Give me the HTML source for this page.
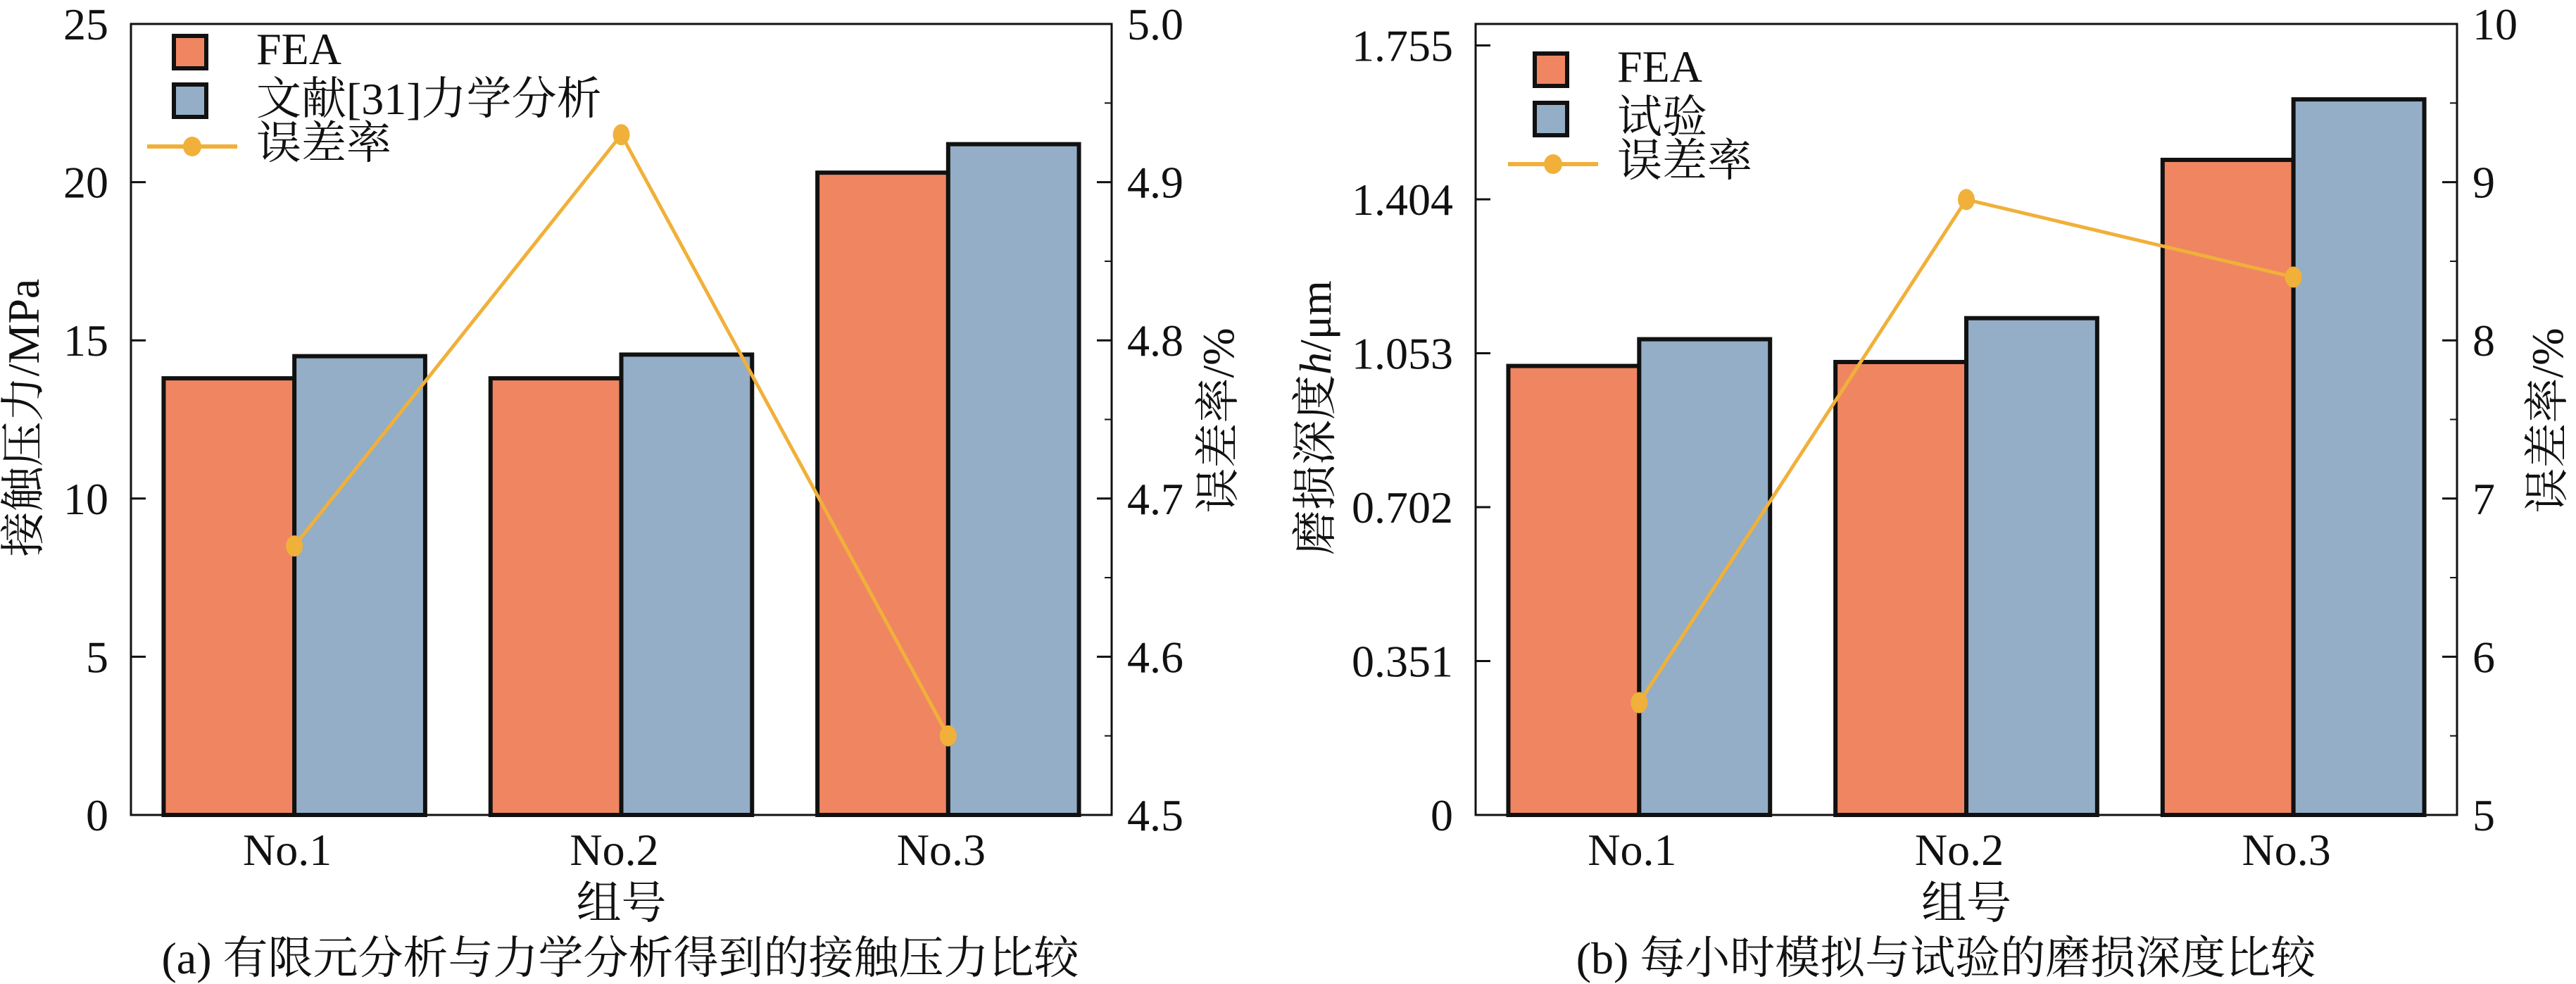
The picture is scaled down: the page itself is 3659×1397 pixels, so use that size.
<!DOCTYPE html>
<html><head><meta charset="utf-8">
<style>
html,body{margin:0;padding:0;background:#fff;}
svg{display:block;}
text{font-family:"Liberation Serif","Noto Serif CJK SC","Noto Sans CJK SC",serif;fill:#111;}
</style></head>
<body>
<svg id="fig" width="3659" height="1397" viewBox="0 0 3659 1397" xmlns="http://www.w3.org/2000/svg">
<rect width="3659" height="1397" fill="#fff"/>
</svg>
<script>
const categories = ["No.1","No.2","No.3"];
// chart (a)
const aFEA = [13.8, 13.8, 20.3];
const aRef = [14.5, 14.55, 21.2];
const aErr = [4.67, 4.93, 4.55];
const aLeftTicks = [0,5,10,15,20,25];
const aRightTicks = [4.5,4.6,4.7,4.8,4.9,5.0];
const aRightLabels = ["4.5","4.6","4.7","4.8","4.9","5.0"];
// chart (b)
const bFEA = [1.024, 1.033, 1.494];
const bTest = [1.085, 1.133, 1.632];
const bErr = [5.71, 8.89, 8.40];
const bLeftTicks = [0,0.351,0.702,1.053,1.404,1.755];
const bLeftLabels = ["0","0.351","0.702","1.053","1.404","1.755"];
const bRightTicks = [5,6,7,8,9,10];

const NS="http://www.w3.org/2000/svg";
const svg=document.getElementById('fig');
function mk(tag,attrs,parent){const e=document.createElementNS(NS,tag);for(const k in attrs)e.setAttribute(k,attrs[k]);(parent||svg).appendChild(e);return e;}
function txt(s,attrs,parent){const e=mk('text',attrs,parent);e.textContent=s;return e;}

const C_FEA="#F08562",C_BLUE="#93AEC6",C_LINE="#F0B03A";

function chart(o){
  const g=mk('g',{});
  
  
  const L=o.left,R=o.right,T=34,B=1157,W=R-L;
  const step=W/categories.length;
  const xc=i=>L+step*(i+0.5);
  const yL=v=>B-(v-o.lmin)/(o.lmax-o.lmin)*(B-T);
  const yR=v=>B-(v-o.rmin)/(o.rmax-o.rmin)*(B-T);
  const bw=step*0.4;
  for(let i=0;i<categories.length;i++){
    const r1=mk('rect',{x:xc(i)-bw,y:yL(o.s1[i]),width:bw,height:B-yL(o.s1[i]),fill:C_FEA,stroke:'#111','stroke-width':6},g);
    
    
    const r2=mk('rect',{x:xc(i),y:yL(o.s2[i]),width:bw,height:B-yL(o.s2[i]),fill:C_BLUE,stroke:'#111','stroke-width':6},g);
    
    
  }
  const fr=mk('rect',{x:L,y:T,width:W,height:B-T,fill:'none',stroke:'#111','stroke-width':3},g);
  
  
  o.lt.forEach((v,i)=>{
    mk('line',{x1:L,x2:L+21,y1:yL(v),y2:yL(v),stroke:'#111','stroke-width':3},g);
    const t=txt(o.ll[i],{x:L-32,y:yL(v)+22,'text-anchor':'end','font-size':64},g);
    
    
  });
  o.rt.forEach((v,i)=>{
    mk('line',{x1:R,x2:R-21,y1:yR(v),y2:yR(v),stroke:'#111','stroke-width':3},g);
    if(i<o.rt.length-1){const m=(v+o.rt[i+1])/2;mk('line',{x1:R,x2:R-10,y1:yR(m),y2:yR(m),stroke:'#111','stroke-width':2},g);}
    const t=txt(o.rl[i],{x:R+22,y:yR(v)+22,'text-anchor':'start','font-size':64},g);
    
    
  });
  categories.forEach((c,i)=>{
    const t=txt(c,{x:xc(i)-10,y:1228,'text-anchor':'middle','font-size':64},g);
    
    
  });
  const pts=o.err.map((v,i)=>xc(i)+','+yR(v)).join(' ');
  const pl=mk('polyline',{points:pts,fill:'none',stroke:C_LINE,'stroke-width':5},g);
  
  
  o.err.forEach((v,i)=>{
    const c=mk('ellipse',{cx:xc(i),cy:yR(v),rx:12,ry:15,fill:C_LINE},g);
    
    
  });
  const xt=txt('组号',{x:(L+R)/2,y:1304,'text-anchor':'middle','font-size':64},g);
  
  
  const yt=mk('text',{x:0,y:0,'text-anchor':'middle','font-size':64,transform:`translate(${o.ytx},593) rotate(-90)`},g);
  
  
  o.ytitle.forEach(p=>{const s=mk('tspan',p[1]?{'font-style':'italic'}:{},yt);s.textContent=p[0];});
  const rt=txt('误差率/%',{x:0,y:0,'text-anchor':'middle','font-size':64,transform:`translate(${o.rtx},597) rotate(-90)`},g);
  
  
  const cap=txt(o.caption,{x:o.capx,y:1382,'text-anchor':'middle','font-size':64},g);
  
  
  const lg=mk('g',{},g);
  
  
  const sx=o.lgx;
  const s1=mk('rect',{x:sx,y:o.lgy[0],width:46,height:46,fill:C_FEA,stroke:'#111','stroke-width':6},lg);
  
  
  const t1=txt('FEA',{x:sx+117,y:o.lgy[0]+40,'font-size':64},lg);
  
  
  const s2=mk('rect',{x:sx,y:o.lgy[1],width:46,height:46,fill:C_BLUE,stroke:'#111','stroke-width':6},lg);
  
  
  const t2=txt(o.s2label,{x:sx+117,y:o.lgy[1]+42,'font-size':64},lg);
  
  
  mk('line',{x1:sx-38,x2:sx+90,y1:o.lgy[2],y2:o.lgy[2],stroke:C_LINE,'stroke-width':6},lg);
  mk('ellipse',{cx:sx+26,cy:o.lgy[2],rx:13,ry:14,fill:C_LINE},lg);
  const t3=txt('误差率',{x:sx+117,y:o.lgy[2]+17,'font-size':64},lg);
  
  
}

chart({name:'chart-a-contact-pressure',left:186,right:1579,lmin:0,lmax:25,rmin:4.5,rmax:5.0,
  s1:aFEA,s2:aRef,err:aErr,s2name:'ref31',s2label:'文献[31]力学分析',
  lt:aLeftTicks,ll:aLeftTicks.map(String),rt:aRightTicks,rl:aRightLabels,
  ytitle:[['接触压力/MPa',false]],ytx:55,rtx:1752,caption:'(a) 有限元分析与力学分析得到的接触压力比较',capx:881,
  lgx:247,lgy:[51,120,208]});
chart({name:'chart-b-wear-depth',left:2096,right:3490,lmin:0,lmax:1.755*(1157-34)/(1157-64.5),rmin:5,rmax:10,
  s1:bFEA,s2:bTest,err:bErr,s2name:'test',s2label:'试验',
  lt:bLeftTicks,ll:bLeftLabels,rt:bRightTicks,rl:bRightTicks.map(String),
  ytitle:[['磨损深度',false],['h',true],['/μm',false]],ytx:1890,rtx:3640,caption:'(b) 每小时模拟与试验的磨损深度比较',capx:2764,
  lgx:2180,lgy:[76,146,233]});
</script>
</body></html>
